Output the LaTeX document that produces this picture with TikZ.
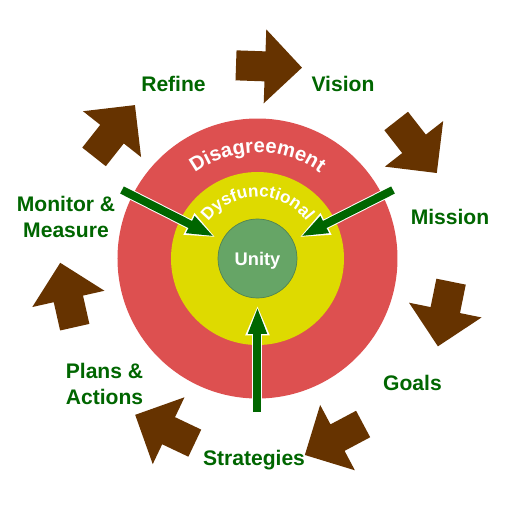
\documentclass[tikz,border=0pt]{standalone}
\usepackage{fontspec}
\setmainfont{Liberation Sans}
\usepackage{tikz}
\usetikzlibrary{arrows.meta, decorations.text}
\definecolor{RingRed}{HTML}{DD5050}
\definecolor{RingYellow}{HTML}{DEDA00}
\definecolor{UnityGreen}{HTML}{66A566}
\definecolor{ArrowGreen}{HTML}{006600}
\definecolor{ArrowBrown}{HTML}{663300}

\tikzset{
  barrow/.pic={\fill[ArrowBrown] (-33,15)--(-4,15)--(-4,37)--(33,0)--(-4,-37)--(-4,-15)--(-33,-15)--cycle;}
}

\begin{document}
\begin{tikzpicture}[x=0.02cm, y=0.02cm,
    lbl/.style={font=\bfseries\fontsize{12}{14.8}\selectfont, text=ArrowGreen, align=center},
    halo/.style={draw=white, line width=2mm, shorten >=1.4mm, -{Triangle[length=6mm,width=4.4mm]}},
    core/.style={draw=ArrowGreen, line width=1.6mm, shorten >=1.7mm, -{Triangle[length=5.4mm,width=3.4mm]}}]
    \fill[white] (-257.5,-252.5) rectangle (253.5,258.5);
    \useasboundingbox (-257.5,-252.5) rectangle (253.5,258.5);
    % rings
    \fill[RingRed] (0,0) circle (140);
    \fill[RingYellow] (0,0) circle (86.5);
    \node[circle,fill=UnityGreen,draw=UnityGreen!80!black,minimum size=1.58cm,inner sep=0pt,text=white,
          font=\bfseries\fontsize{10.4}{12}\selectfont,text depth=0pt](unity)at(0,0){Unity};
    \path[decorate,decoration={text along path,text align=center,
          text={|\bfseries\fontsize{11.5}{13}\selectfont\color{white}|Disagreement}}]
          (180:106) arc[start angle=180,end angle=0,radius=106];
    \path[decorate,decoration={text along path,text align=center,
          text={|\bfseries\fontsize{9.8}{12}\selectfont\color{white}|Dysfunctional}}]
          (180:61.5) arc[start angle=180,end angle=0,radius=61.5];
    % green arrows
    \coordinate (ltail) at (-135.5,68.5);
    \coordinate (rtail) at (135.5,68.5);
    \coordinate (btail) at (0,-153.5);
    \draw[halo](ltail)--(unity); \draw[core](ltail)--(unity);
    \draw[halo](rtail)--(unity); \draw[core](rtail)--(unity);
    \draw[halo](btail)--(unity); \draw[core](btail)--(unity);
    % cycle arrows
    \pic[rotate=-2] at (11.5,192) {barrow};
    \pic[rotate=-52] at (159,111.5) {barrow};
    \pic[rotate=-101.5] at (187,-55.5) {barrow};
    \pic[rotate=-152] at (76.5,-181) {barrow};
    \pic[rotate=154.6] at (-92.5,-170.5) {barrow};
    \pic[rotate=102.7] at (-190,-36.5) {barrow};
    \pic[rotate=51.7] at (-143,127.5) {barrow};
    % labels
    \node[lbl](vision)at(85.5,174.8){Vision};
    \node[lbl](mission)at(192.5,41.5){Mission};
    \node[lbl](goals)at(155,-124.2){Goals};
    \node[lbl](strategies)at(-3.5,-201.3){Strategies};
    \node[lbl](plans)at(-153,-125.5){Plans \&\\Actions};
    \node[lbl](monitor)at(-191.5,41.5){Monitor \&\\Measure};
    \node[lbl](refine)at(-84,174.8){Refine};
\end{tikzpicture}
\end{document}
